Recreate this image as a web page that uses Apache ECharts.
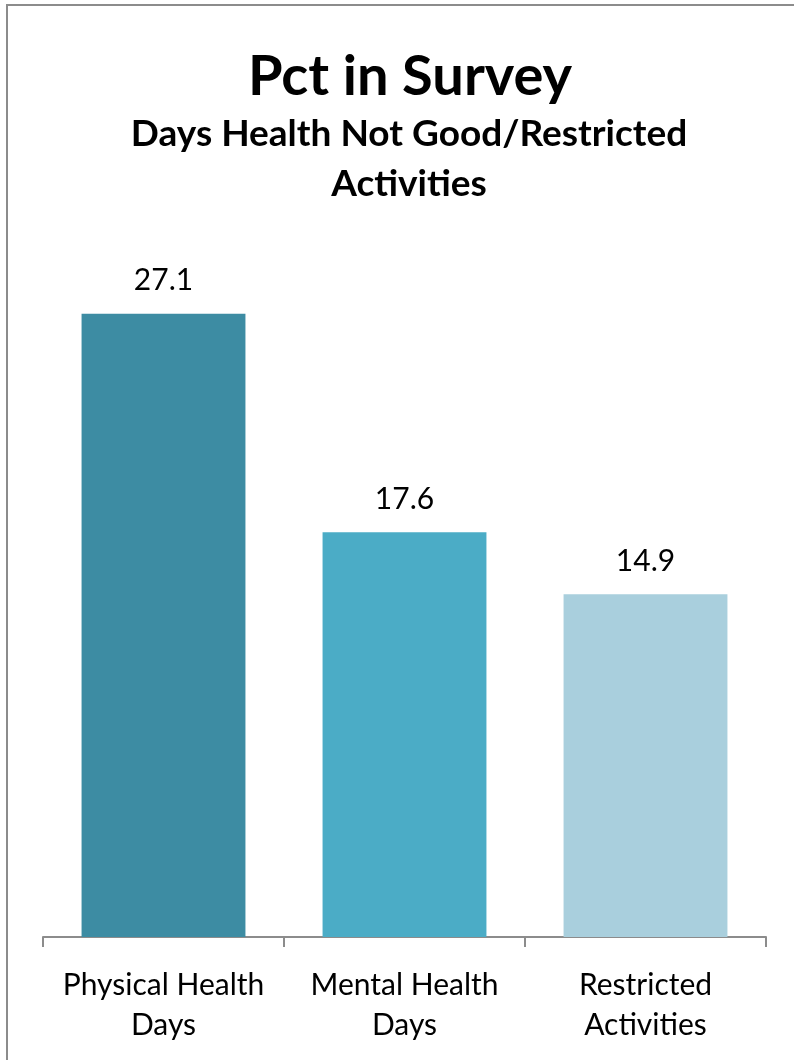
<!DOCTYPE html>
<html>
<head>
<meta charset="utf-8">
<script src="https://cdn.jsdelivr.net/npm/echarts@6/dist/echarts.min.js"></script>
<style>
    html, body { margin: 0; padding: 0; background: #fff; }
    #frame {
        position: absolute; left: 6px; top: 4px; width: 788px; height: 1056px;
        border-top: 2px solid #8c8c8c; border-left: 2px solid #8c8c8c;
    }
    #chart { position: absolute; left: 0; top: 0; width: 794px; height: 1060px; }
</style>
</head>
<body>
<div id="frame"></div>
<div id="chart"></div>
<script>
const categories = ['Physical Health\nDays', 'Mental Health\nDays', 'Restricted\nActivities'];
const values = [27.1, 17.6, 14.9];
const barColors = ['#3d8ca3', '#4bacc6', '#a9cfdd'];

const myChart = echarts.init(document.getElementById('chart'));
const font = 'Lato, "Open Sans", sans-serif';

var option = {
    animation: false,
    title: [
        {
            text: 'Pct in Survey',
            left: 405,
            textAlign: 'center',
            top: 44,
            textStyle: { fontFamily: font, fontSize: 56, fontWeight: 'bold', color: '#000' }
        },
        {
            text: 'Days Health Not Good/Restricted\nActivities',
            left: 404,
            textAlign: 'center',
            top: 104,
            textStyle: { fontFamily: font, fontSize: 37, fontWeight: 'bold', color: '#000', lineHeight: 50, align: 'center' }
        }
    ],
    grid: {
        left: 43,
        right: 28,
        top: 247,
        bottom: 123
    },
    xAxis: {
        type: 'category',
        data: categories,
        boundaryGap: true,
        axisLine: { lineStyle: { color: '#8c8c8c', width: 2 } },
        axisTick: { show: true, length: 10, lineStyle: { color: '#8c8c8c', width: 2 } },
        axisLabel: {
            color: '#000',
            fontFamily: font,
            fontSize: 30,
            lineHeight: 40,
            margin: 28,
            interval: 0
        }
    },
    yAxis: {
        type: 'value',
        min: 0,
        max: 30,
        show: false,
        splitLine: { show: false }
    },
    series: [
        {
            type: 'bar',
            barWidth: '68%',
            data: values.map((v, i) => ({ value: v, itemStyle: { color: barColors[i] } })),
            label: {
                show: true,
                position: 'top',
                distance: 18,
                color: '#000',
                fontFamily: font,
                fontSize: 30,
                formatter: p => p.value.toFixed(1)
            }
        }
    ]
};
myChart.setOption(option);
</script>
</body>
</html>
